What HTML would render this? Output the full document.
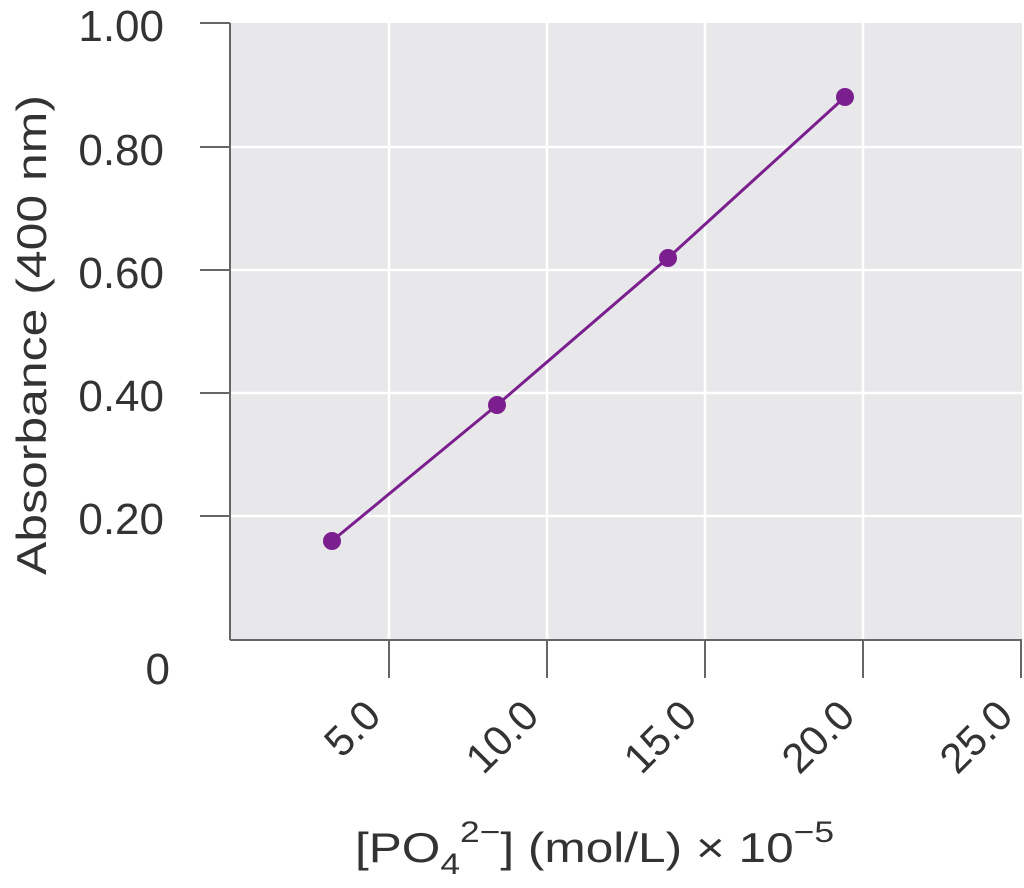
<!DOCTYPE html>
<html><head><meta charset="utf-8"><style>
html,body{margin:0;padding:0;background:#fff;}
svg{display:block;}
text{font-family:"Liberation Sans",sans-serif;fill:#333;}
</style></head><body>
<svg width="1024" height="888" viewBox="0 0 1024 888">
<rect x="230" y="23" width="792" height="617" fill="#e8e8eb"/>
<g stroke="#fff" stroke-width="2.5">
<line x1="389" y1="23" x2="389" y2="640"/>
<line x1="547" y1="23" x2="547" y2="640"/>
<line x1="705" y1="23" x2="705" y2="640"/>
<line x1="863" y1="23" x2="863" y2="640"/>
<line x1="230" y1="147" x2="1022" y2="147"/>
<line x1="230" y1="270" x2="1022" y2="270"/>
<line x1="230" y1="393" x2="1022" y2="393"/>
<line x1="230" y1="516" x2="1022" y2="516"/>
</g>
<g stroke="#666" stroke-width="2">
<line x1="230" y1="23" x2="230" y2="640"/>
<line x1="230" y1="640" x2="1022" y2="640"/>
<line x1="200" y1="23" x2="230" y2="23"/>
<line x1="200" y1="147" x2="230" y2="147"/>
<line x1="200" y1="270" x2="230" y2="270"/>
<line x1="200" y1="393" x2="230" y2="393"/>
<line x1="200" y1="516" x2="230" y2="516"/>
<line x1="389" y1="640" x2="389" y2="678"/>
<line x1="547" y1="640" x2="547" y2="678"/>
<line x1="705" y1="640" x2="705" y2="678"/>
<line x1="863" y1="640" x2="863" y2="678"/>
<line x1="1021" y1="640" x2="1021" y2="678"/>
</g>
<g font-size="44" text-anchor="end">
<text x="164" y="41">1.00</text>
<text x="164" y="165">0.80</text>
<text x="164" y="288">0.60</text>
<text x="164" y="411">0.40</text>
<text x="164" y="534">0.20</text>
<text x="170" y="684">0</text>
</g>
<g font-size="42" text-anchor="end">
<text transform="translate(383,718) rotate(-45)">5.0</text>
<text transform="translate(541,718) rotate(-45)">10.0</text>
<text transform="translate(699,718) rotate(-45)">15.0</text>
<text transform="translate(857,718) rotate(-45)">20.0</text>
<text transform="translate(1015,718) rotate(-45)">25.0</text>
</g>
<text font-size="42" text-anchor="middle" textLength="480" lengthAdjust="spacingAndGlyphs" transform="translate(46,335) rotate(-90)">Absorbance (400 nm)</text>
<g transform="translate(355,862) scale(1.18,1)">
<text font-size="42" x="0" y="0">[PO<tspan font-size="30" dy="12">4</tspan><tspan font-size="30" dy="-32">2−</tspan><tspan dy="20">] (mol/L) × 10</tspan><tspan font-size="30" dy="-20">−5</tspan></text>
</g>
<polyline points="332,541 497,405 668,258 845,97" fill="none" stroke="#7b1f8e" stroke-width="3"/>
<g fill="#7b1f8e">
<circle cx="332" cy="541" r="9"/>
<circle cx="497" cy="405" r="9"/>
<circle cx="668" cy="258" r="9"/>
<circle cx="845" cy="97" r="9"/>
</g>
</svg>
</body></html>
